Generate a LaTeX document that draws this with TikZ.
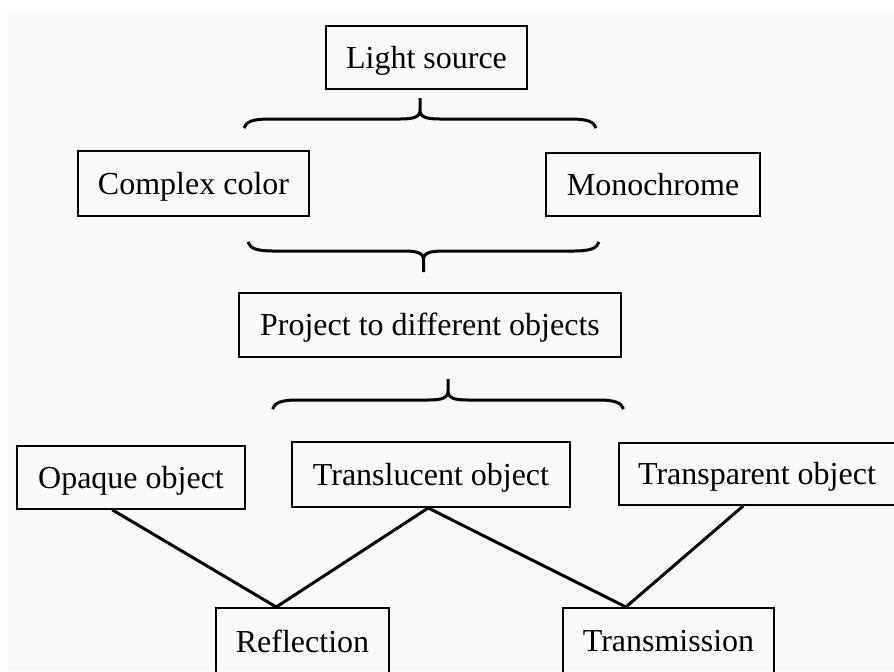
\documentclass[tikz,border=0pt]{standalone}
\usepackage{fontspec}
\setmainfont{Liberation Serif}
\usepackage{xcolor}
\usetikzlibrary{calc}

\definecolor{paper}{RGB}{247,250,248}

\tikzset{
	box/.style={draw, line width=1pt, inner sep=0pt, text height=10.6pt, text depth=0pt,
		font=\fontsize{16pt}{19pt}\selectfont},
	link/.style={line width=1.5pt, line cap=round},
	pics/brace/.style={code={
		\draw[line width=1.5pt] (0,0) -- (0,12) .. controls (0,19) and (-6,21) .. (-20,21) -- (-#1+25,21) .. controls (-#1+8,21) and (-#1+2,24) .. (-#1,30)
			(0,12) .. controls (0,19) and (6,21) .. (20,21) -- (#1-25,21) .. controls (#1-8,21) and (#1-2,24) .. (#1,30);
	}}
}

\begin{document}
\begin{tikzpicture}[x=0.5pt, y=-0.5pt]
		\clip (0,0) rectangle (894,671);
		\fill[white] (0,0) rectangle (894,671);
		\fill[paper] (7,11) rectangle (894,671);

		\node[box, minimum width=100.5pt, minimum height=31.5pt] (light) at (426.5,57.5) {Light source};
		\node[box, minimum width=115.5pt, minimum height=32.5pt] (complex) at (193.5,183.5) {Complex color};
		\node[box, minimum width=107pt, minimum height=31.5pt] (mono) at (653,184.5) {Monochrome};
		\node[box, minimum width=191pt, minimum height=32pt] (project) at (430,325) {Project to different objects};

		\node[box, minimum width=114pt, minimum height=31.5pt] (opaque) at (131,477.5) {Opaque object};
		\node[box, minimum width=139pt, minimum height=32.5pt] (translucent) at (431,474.5) {Translucent object};
		\node[box, minimum width=138pt, minimum height=31pt] (transparent) at (757,474) {Transparent object};

		\node[box, minimum width=86.5pt, minimum height=33.5pt] (reflection) at (302.5,641.5) {Reflection};
		\node[box, minimum width=105.5pt, minimum height=33pt] (transmission) at (668.5,641) {Transmission};

		\pic at (420,98) {brace=176};
		\pic[yscale=-1] at (423.5,272) {brace=175.5};
		\pic at (448,379) {brace=175.5};

		\coordinate (refltop) at ($(reflection.north west)!.35!(reflection.north east)$);
		\coordinate (transtop) at ($(transmission.north west)!.30!(transmission.north east)$);
		\coordinate (transbot) at ($(translucent.south west)!.49!(translucent.south east)$);

		\draw[link] ($(opaque.south west)!.42!(opaque.south east)$) -- (refltop);
		\draw[link] (transbot) -- (refltop);
		\draw[link] (transbot) -- (transtop);
		\draw[link] ($(transparent.south west)!.45!(transparent.south east)$) -- (transtop);
	\end{tikzpicture}
\end{document}
